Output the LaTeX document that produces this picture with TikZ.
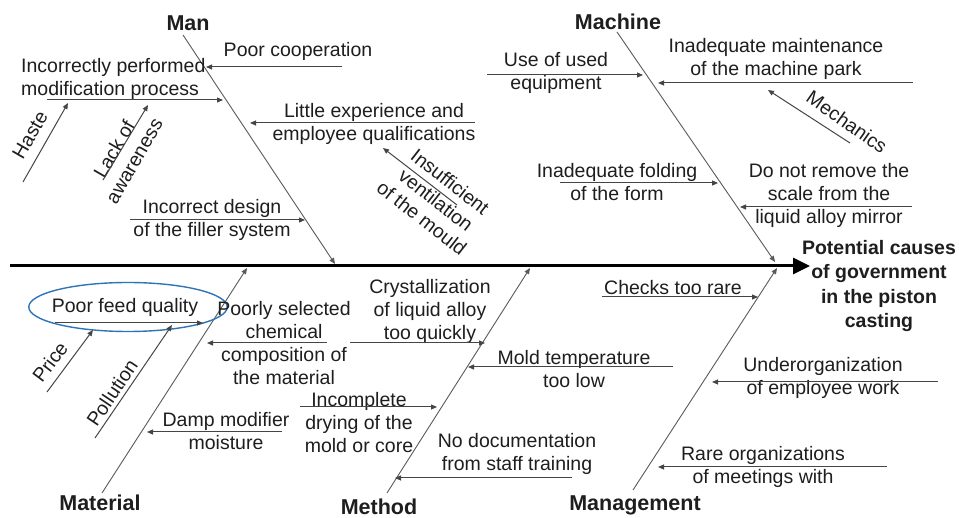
\documentclass[tikz,border=0pt]{standalone}
\usepackage{fontspec}
\setmainfont{Liberation Sans}
\usetikzlibrary{arrows.meta,shapes.geometric}
\definecolor{txt}{HTML}{1E1E1E}
\definecolor{bonecol}{HTML}{5A5A5A}
\definecolor{subcol}{HTML}{454545}
\definecolor{ellblue}{HTML}{2E75B6}
\tikzset{
  lbl/.style={font=\fontsize{19.5}{23}\selectfont, text=txt, align=center, inner sep=0pt},
  cat/.style={font=\fontsize{21.5}{24}\selectfont\bfseries, text=txt, inner sep=0pt},
  eff/.style={font=\fontsize{19.5}{24.3}\selectfont\bfseries, text=txt, align=center, inner sep=0pt},
  bone/.style={draw=bonecol, line width=0.9pt, -{Triangle[length=6pt,width=5pt]}},
  subarrow/.style={draw=subcol, line width=1pt, -{Triangle[length=6pt,width=5pt]}},
  spine/.style={draw=black, line width=3pt, -{Triangle[length=17pt,width=16pt]}}
}
\begin{document}
\begin{tikzpicture}[x=1pt,y=-1pt]
\useasboundingbox[fill=white] (0,0) rectangle (959,518);

% spine
\coordinate (spS) at (10,266);
\coordinate (spE) at (810,266);
\draw[spine] (spS) -- (spE);

% bones
\coordinate (manS) at (183,35);   \coordinate (manE) at (335,264);
\coordinate (macS) at (617,32);   \coordinate (macE) at (775,262);
\coordinate (matS) at (102,493);  \coordinate (matE) at (247,268);
\coordinate (metS) at (387,493);  \coordinate (metE) at (530,268);
\coordinate (mngS) at (633,490);  \coordinate (mngE) at (777,268);
\draw[bone] (manS) -- (manE);
\draw[bone] (macS) -- (macE);
\draw[bone] (matS) -- (matE);
\draw[bone] (metS) -- (metE);
\draw[bone] (mngS) -- (mngE);

% category labels
\node[cat] (man) at (188,23) {Man};
\node[cat] (machine) at (618,22) {Machine};
\node[cat] (material) at (100,503) {Material};
\node[cat] (method) at (379,507) {Method};
\node[cat] (management) at (635,505) {Management};
\node[eff] (effect) at (879,286) {Potential causes\\of government\\in the piston\\casting};

% ---- Man ----
\node[lbl] (poorcoop) at (298,51) {Poor cooperation};
\coordinate (a1s) at (342,67); \coordinate (a1e) at (206,67);
\draw[subarrow] (a1s) -- (a1e);

\node[lbl, align=left, anchor=west] (incperf) at (21,79) {Incorrectly performed\\modification process};
\coordinate (a2s) at (47,100); \coordinate (a2e) at (223,100);
\draw[subarrow] (a2s) -- (a2e);

\node[lbl, rotate=60] (haste) at (30,135) {Haste};
\coordinate (a3s) at (23,182); \coordinate (a3e) at (68,103);
\draw[subarrow] (a3s) -- (a3e);

\node[lbl, rotate=60] (lack) at (124,155) {Lack of\\awareness};
\coordinate (a4s) at (103,180); \coordinate (a4e) at (148,105);
\draw[subarrow] (a4s) -- (a4e);

\node[lbl] (little) at (374,124) {Little experience and\\employee qualifications};
\coordinate (a5s) at (475,123); \coordinate (a5e) at (250,123);
\draw[subarrow] (a5s) -- (a5e);

\node[lbl, rotate=-38] (insuff) at (436,200) {Insufficient\\ventilation\\of the mould};
\coordinate (a6s) at (457,205); \coordinate (a6e) at (383,148);
\draw[subarrow] (a6s) -- (a6e);

\node[lbl] (incdes) at (212,220) {Incorrect design\\of the filler system};
\coordinate (a7s) at (130,220); \coordinate (a7e) at (305,220);
\draw[subarrow] (a7s) -- (a7e);

% ---- Machine ----
\node[lbl] (useof) at (556,73) {Use of used\\equipment};
\coordinate (b1s) at (487,75); \coordinate (b1e) at (643,75);
\draw[subarrow] (b1s) -- (b1e);

\node[lbl] (inadm) at (776,59) {Inadequate maintenance\\of the machine park};
\coordinate (b2s) at (913,83); \coordinate (b2e) at (658,83);
\draw[subarrow] (b2s) -- (b2e);

\node[lbl, rotate=-35] (mech) at (847,122) {Mechanics};
\coordinate (b3s) at (850,143); \coordinate (b3e) at (768,90);
\draw[subarrow] (b3s) -- (b3e);

\node[lbl] (inadf) at (617,182) {Inadequate folding\\of the form};
\coordinate (b4s) at (560,183); \coordinate (b4e) at (718,183);
\draw[subarrow] (b4s) -- (b4e);

\node[lbl] (donot) at (829,195) {Do not remove the\\scale from the\\liquid alloy mirror};
\coordinate (b5s) at (912,207); \coordinate (b5e) at (740,207);
\draw[subarrow] (b5s) -- (b5e);

% ---- Material ----
\node[lbl, ellipse, draw=ellblue, line width=1.4pt, minimum width=187pt, minimum height=49pt, inner sep=0pt] (poorfeed) at (128,307) {\hspace*{-6pt}Poor feed quality};
\coordinate (c1s) at (55,323); \coordinate (c1e) at (203,323);
\draw[subarrow] (c1s) -- (c1e);

\node[lbl, rotate=53] (price) at (50,362) {Price};
\coordinate (c2s) at (47,392); \coordinate (c2e) at (93,330);
\draw[subarrow] (c2s) -- (c2e);

\node[lbl, rotate=56] (pollution) at (112,393) {Pollution};
\coordinate (c3s) at (95,438); \coordinate (c3e) at (172,325);
\draw[subarrow] (c3s) -- (c3e);

\node[lbl] (poorsel) at (284,343.5) {Poorly selected\\chemical\\composition of\\the material};
\coordinate (c4s) at (327,343); \coordinate (c4e) at (207,343);
\draw[subarrow] (c4s) -- (c4e);

\node[lbl] (damp) at (226,431) {Damp modifier\\moisture};
\coordinate (c5s) at (282,432); \coordinate (c5e) at (147,432);
\draw[subarrow] (c5s) -- (c5e);

% ---- Method ----
\node[lbl] (cryst) at (430,311.5) {Crystallization\\of liquid alloy\\too quickly};
\coordinate (d1s) at (350,343); \coordinate (d1e) at (485,343);
\draw[subarrow] (d1s) -- (d1e);

\node[lbl] (moldt) at (574,369) {Mold temperature\\too low};
\coordinate (d2s) at (673,367); \coordinate (d2e) at (468,367);
\draw[subarrow] (d2s) -- (d2e);

\node[lbl] (incomp) at (359,422.5) {Incomplete\\drying of the\\mold or core};
\coordinate (d3s) at (300,407); \coordinate (d3e) at (437,407);
\draw[subarrow] (d3s) -- (d3e);

\node[lbl] (nodoc) at (517,454) {No documentation\\from staff training};
\coordinate (d4s) at (572,478); \coordinate (d4e) at (395,478);
\draw[subarrow] (d4s) -- (d4e);

% ---- Management ----
\node[lbl] (checks) at (673,288) {Checks too rare};
\coordinate (e1s) at (602,297); \coordinate (e1e) at (758,297);
\draw[subarrow] (e1s) -- (e1e);

\node[lbl] (underorg) at (823,377.5) {Underorganization\\of employee work};
\coordinate (e2s) at (938,382); \coordinate (e2e) at (712,382);
\draw[subarrow] (e2s) -- (e2e);

\node[lbl] (rare) at (763,466.5) {Rare organizations\\of meetings with};
\coordinate (e3s) at (887,467); \coordinate (e3e) at (658,467);
\draw[subarrow] (e3s) -- (e3e);
\end{tikzpicture}
\end{document}
